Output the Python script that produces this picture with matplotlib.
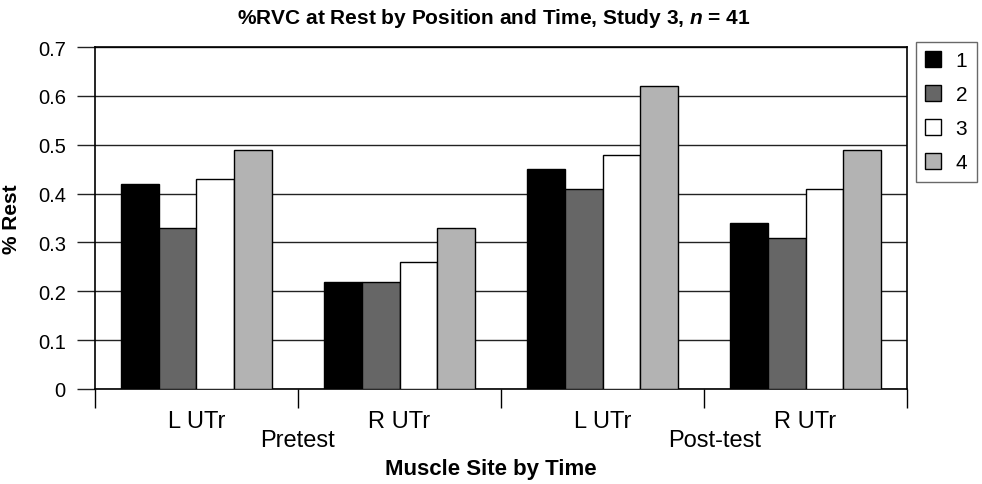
import matplotlib
matplotlib.use("Agg")
import matplotlib.pyplot as plt
import matplotlib.transforms as mtransforms
from matplotlib.patches import Patch
import numpy as np

plt.rcParams['font.family'] = ['Liberation Sans', 'DejaVu Sans']
plt.rcParams['mathtext.fontset'] = 'custom'
plt.rcParams['mathtext.it'] = 'Liberation Sans:bold:italic'
plt.rcParams['mathtext.rm'] = 'Liberation Sans:bold'

categories = ["L UTr", "R UTr", "L UTr", "R UTr"]
series_names = ["1", "2", "3", "4"]
s1 = [0.42, 0.22, 0.45, 0.34]
s2 = [0.33, 0.22, 0.41, 0.31]
s3 = [0.43, 0.26, 0.48, 0.41]
s4 = [0.49, 0.33, 0.62, 0.49]
series = [s1, s2, s3, s4]
colors = ["#000000", "#666666", "#ffffff", "#b3b3b3"]
time_labels = ["Pretest", "Post-test"]
yticks = [0, 0.1, 0.2, 0.3, 0.4, 0.5, 0.6, 0.7]

fig = plt.figure(figsize=(9.82, 4.85), dpi=100)
ax = fig.add_axes([0.0967, 0.1959, 0.827, 0.705])

x = np.arange(len(categories))
bw = 0.185
for i, (vals, c) in enumerate(zip(series, colors)):
    ax.bar(x + (i - 1.5) * bw, vals, width=bw, color=c, edgecolor="black",
           linewidth=1, zorder=3, label=series_names[i])

ax.set_xlim(-0.5, 3.5)
ax.set_ylim(0, 0.7)
ax.set_yticks(yticks)
ax.set_yticklabels(["0" if v == 0 else f"{v:.1f}" for v in yticks], fontsize=14.5)
ax.yaxis.grid(True, color="#222222", linewidth=1, zorder=0)
ax.tick_params(axis='y', length=13, width=1, color="#222222", pad=8)

ax.set_xticks([-0.5, 0.5, 1.5, 2.5, 3.5])
ax.set_xticklabels([])
ax.tick_params(axis='x', which='major', length=14, width=1, direction='out')
ax.set_xticks(x, minor=True)
ax.set_xticklabels(categories, minor=True, fontsize=17)
ax.tick_params(axis='x', which='minor', length=0, pad=15)

for sp in ax.spines.values():
    sp.set_linewidth(1.2)
    sp.set_color("black")

trans = mtransforms.blended_transform_factory(ax.transData, ax.transAxes)
ax.text(0.5, -0.15, time_labels[0], transform=trans, ha='center', va='center', fontsize=17)
ax.text(2.55, -0.15, time_labels[1], transform=trans, ha='center', va='center', fontsize=17)

fig.text(0.5, 1 - 470 / 485, "Muscle Site by Time", fontsize=16, fontweight='bold',
         ha='center', va='center')
ax.set_ylabel("% Rest", fontsize=15, fontweight='bold', labelpad=12)
fig.text(0.503, 1 - 19 / 485,
         r"%RVC at Rest by Position and Time, Study 3, $\mathit{n}$ = 41",
         fontsize=15, fontweight='bold', ha='center', va='center')

handles = [Patch(facecolor=c, edgecolor="black", linewidth=1) for c in colors]
leg = fig.legend(handles, series_names, loc='upper left',
                 bbox_to_anchor=(916 / 982, 1 - 43 / 485), fontsize=15,
                 frameon=True, fancybox=False, handlelength=0.75, handleheight=0.75,
                 handletextpad=0.7, labelspacing=0.72, borderpad=0.45, borderaxespad=0)
leg.get_frame().set_edgecolor("#444444")
leg.get_frame().set_linewidth(1)

fig.savefig("out.png", dpi=100)
